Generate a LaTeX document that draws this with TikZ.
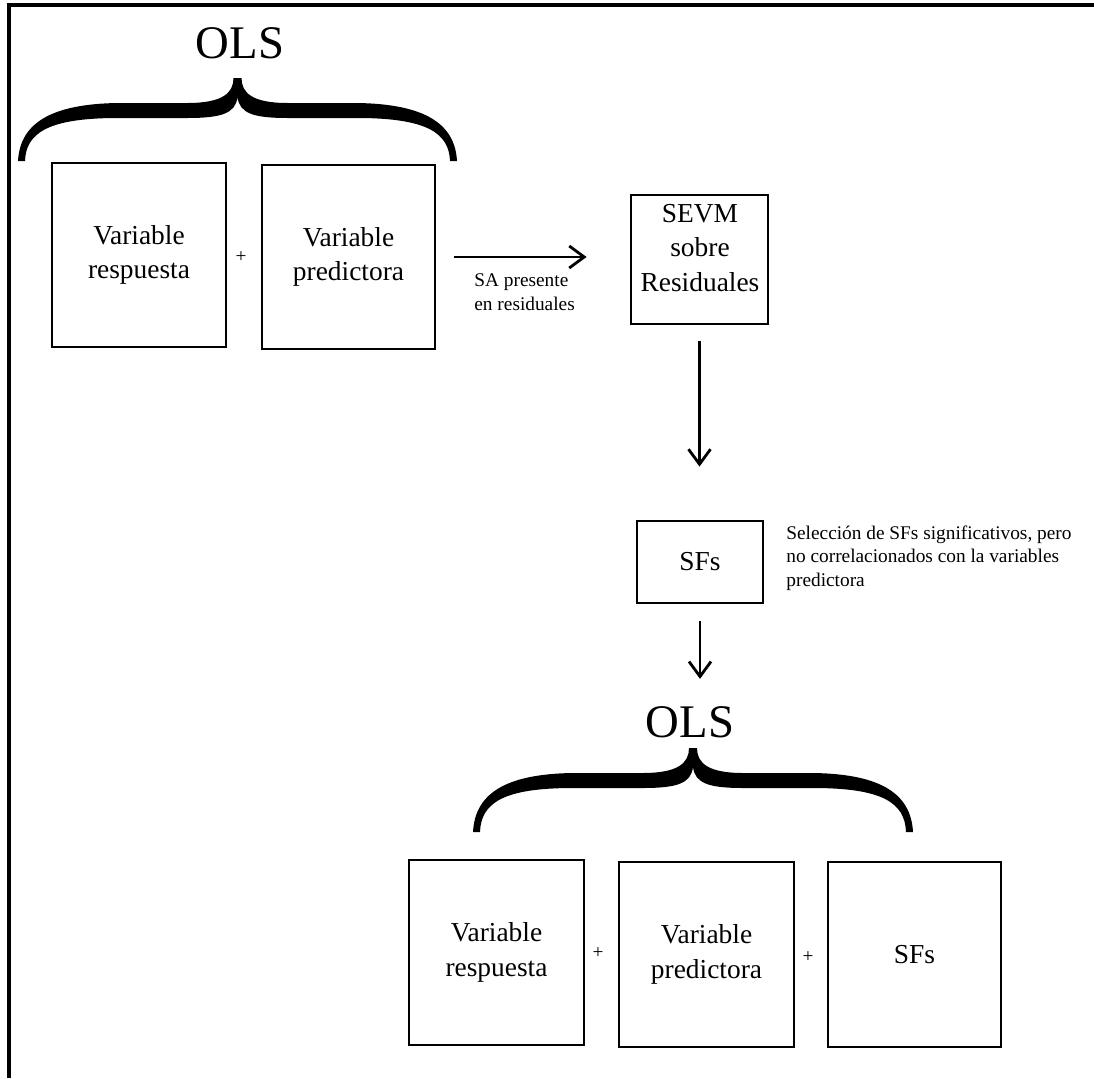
\documentclass[tikz,border=0pt]{standalone}
\usepackage{fontspec}
\setmainfont{Liberation Serif}
\usetikzlibrary{arrows.meta,positioning}

% curly brace over a model: left x, right x, peak y, tip y
\newcommand{\olsbrace}[4]{%
\pgfmathsetmacro{\bm}{(#1+#2)/2}
\pgfmathsetmacro{\bo}{#3+25}
\pgfmathsetmacro{\bi}{#3+40}
\fill (#1,#4) .. controls (#1+2,\bo+22) and (#1+30,\bo+1) .. (#1+100,\bo)
	-- (\bm-50,\bo) .. controls (\bm-15,\bo) and (\bm-4,\bo-10) .. (\bm-4,#3)
	-- (\bm+4,#3) .. controls (\bm+4,\bo-10) and (\bm+15,\bo) .. (\bm+50,\bo)
	-- (#2-100,\bo) .. controls (#2-30,\bo+1) and (#2-2,\bo+22) .. (#2,#4)
	-- (#2-7,#4) .. controls (#2-8,\bi+15) and (#2-30,\bi) .. (#2-100,\bi)
	-- (\bm+50,\bi) .. controls (\bm+15,\bi) and (\bm+2,\bi-5) .. (\bm,#3+19)
	.. controls (\bm-2,\bi-5) and (\bm-15,\bi) .. (\bm-50,\bi)
	-- (#1+100,\bi) .. controls (#1+30,\bi) and (#1+8,\bi+15) .. (#1+7,#4) -- cycle;
}

\begin{document}
\begin{tikzpicture}[x=0.2mm, y=-0.2mm, line width=1.6pt, >={Straight Barb[length=3mm,width=4.4mm]}]
\tikzstyle{every node} = [inner sep=0pt]
\tikzstyle{box} = [draw, rectangle, align=center, font=\fontsize{15.6}{19.8}\selectfont]
\tikzstyle{boxtext} = [align=center, font=\fontsize{15.6}{19.8}\selectfont]
\tikzstyle{ols} = [font=\fontsize{26.6}{32}\selectfont]
\tikzstyle{note} = [align=left, font=\fontsize{11}{13.5}\selectfont]
\tikzstyle{plus} = [font=\fontsize{11}{13}\selectfont]
\useasboundingbox (0,0) rectangle (1094,1078);
\draw[line width=2pt] (1094,5) -- (9,5) -- (9,1078);

% first model
\node[ols] (olsa) at (240,43) {OLS};
\olsbrace{18}{457}{78}{161}
\node[box, minimum width=34.8mm, minimum height=36.8mm] (resp) at (139,255) {Variable\\respuesta};
\node[plus] (plusa) at (241,257) {+};
\node[box, minimum width=34.6mm, minimum height=36.8mm] (pred) at (348.5,257) {Variable\\predictora};

% residuals
\node[box, minimum width=27.4mm, minimum height=25.8mm] (sevm) at (699.5,259.5) {};
\node[boxtext] (sevmtxt) at (700,248) {SEVM\\sobre\\Residuales};
\node[note, anchor=west] (sa) at (473,292) {SA presente\\en residuales};
\draw[->, shorten <=3.6mm, shorten >=8.6mm] (pred.east) -- (pred.east -| sevm.west);

\node[box, minimum width=25.2mm, minimum height=16.4mm] (sfs) at (700,562) {SFs};
\node[note, anchor=west] (sel) at (785,558) {Selección de SFs significativos, pero\\no correlacionados con la variables\\predictora};
\draw[->, shorten <=3.2mm, shorten >=10.6mm] (sevm.south) -- (sevm.south |- sfs.north);

% second model
\node[ols] (olsb) at (690,722) {OLS};
\draw[->, shorten <=3.4mm, shorten >=5.2mm] (sfs.south) -- (sfs.south |- olsb.north);
\olsbrace{473}{913}{748}{832}
\node[box, minimum width=35mm, minimum height=37mm] (resp2) at (496.5,952.5) {Variable\\respuesta};
\node[plus] (plusb) at (598,953) {+};
\node[box, minimum width=35mm, minimum height=37mm] (pred2) at (706.5,954.5) {Variable\\predictora};
\node[plus] (plusc) at (808,957) {+};
\node[box, minimum width=34.6mm, minimum height=37mm] (sfs2) at (914.5,954.5) {SFs};
\end{tikzpicture}
\end{document}
